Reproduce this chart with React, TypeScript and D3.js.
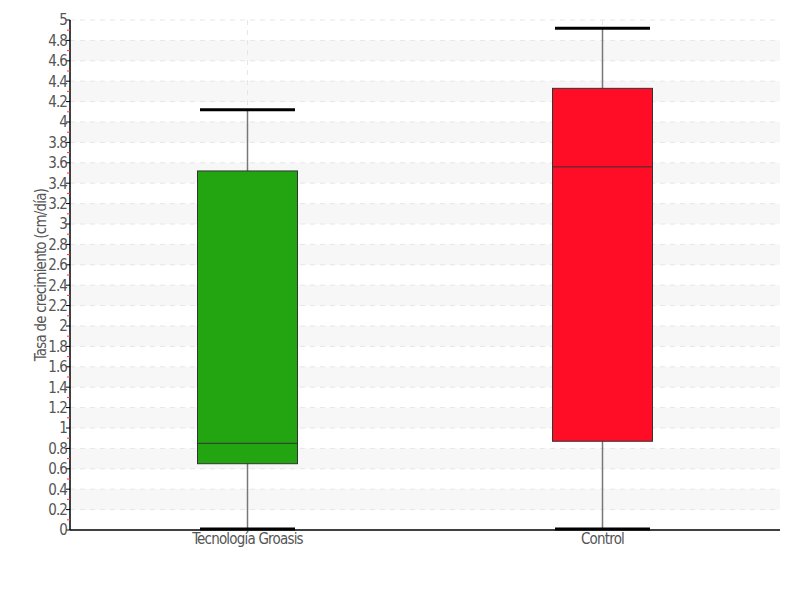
import React, { useEffect, useRef } from 'react';
import * as d3 from 'd3';

// box stats
const categories = ['Tecnología Groasis', 'Control'];
const whiskerLow = [0.01, 0.01];
const q1Values = [0.65, 0.87];
const medianValues = [0.85, 3.56];
const q3Values = [3.52, 4.33];
const whiskerHigh = [4.12, 4.92];
const boxColors = ['#22a511', '#ff0d26'];
const yTicks = d3.range(0, 5.0001, 0.2).map(v => +v.toFixed(1));
const yLabel = 'Tasa de crecimiento (cm/día)';

const FONT = '"DejaVu Sans Condensed", "DejaVu Sans", sans-serif';

const App: React.FC = () => {
  const ref = useRef<SVGSVGElement>(null);

  useEffect(() => {
    const svg = d3.select(ref.current);
    svg.selectAll('*').remove();

    const left = 70, right = 780, top = 20, bottom = 530;
    const y = d3.scaleLinear().domain([0, 5]).range([bottom, top]);
    const x = d3.scalePoint<string>().domain(categories).range([left, right]).padding(0.5);

    // alternating bands
    const bands = yTicks.filter((t, i) => i % 2 === 1 && t < 5);
    svg.append('g').selectAll('rect').data(bands).enter().append('rect')
      .attr('x', left).attr('width', right - left)
      .attr('y', d => y(d + 0.2)).attr('height', d => y(d) - y(d + 0.2))
      .attr('fill', '#f7f7f7');

    // horizontal grid
    svg.append('g').selectAll('line').data(yTicks.filter(t => t > 0)).enter().append('line')
      .attr('x1', left).attr('x2', right)
      .attr('y1', d => y(d)).attr('y2', d => y(d))
      .attr('stroke', '#e6e6e6').attr('stroke-dasharray', '5,5');

    // vertical grid at category centers
    svg.append('g').selectAll('line').data(categories).enter().append('line')
      .attr('x1', d => x(d)!).attr('x2', d => x(d)!)
      .attr('y1', top).attr('y2', bottom)
      .attr('stroke', '#e6e6e6').attr('stroke-dasharray', '5,5');

    const idx = d3.range(categories.length);
    const g = svg.append('g');
    const boxW = 100, capW = 95;

    // whisker stems
    g.selectAll('line.stem').data(idx).enter().append('line')
      .attr('class', 'stem')
      .attr('x1', i => x(categories[i])!).attr('x2', i => x(categories[i])!)
      .attr('y1', i => y(whiskerLow[i])).attr('y2', i => y(whiskerHigh[i]))
      .attr('stroke', '#777').attr('stroke-width', 1.5);

    // caps
    [whiskerLow, whiskerHigh].forEach(arr => {
      g.append('g').selectAll('line').data(idx).enter().append('line')
        .attr('x1', i => x(categories[i])! - capW / 2).attr('x2', i => x(categories[i])! + capW / 2)
        .attr('y1', i => y(arr[i])).attr('y2', i => y(arr[i]))
        .attr('stroke', '#000').attr('stroke-width', 3);
    });

    // boxes
    g.selectAll('rect.box').data(idx).enter().append('rect')
      .attr('class', 'box')
      .attr('x', i => x(categories[i])! - boxW / 2).attr('width', boxW)
      .attr('y', i => y(q3Values[i])).attr('height', i => y(q1Values[i]) - y(q3Values[i]))
      .attr('fill', i => boxColors[i])
      .attr('stroke', '#333').attr('stroke-width', 1);

    // medians
    g.selectAll('line.med').data(idx).enter().append('line')
      .attr('class', 'med')
      .attr('x1', i => x(categories[i])! - boxW / 2).attr('x2', i => x(categories[i])! + boxW / 2)
      .attr('y1', i => y(medianValues[i])).attr('y2', i => y(medianValues[i]))
      .attr('stroke', '#333').attr('stroke-width', 1);

    // axes
    svg.append('line').attr('x1', left).attr('x2', right).attr('y1', bottom).attr('y2', bottom)
      .attr('stroke', '#000').attr('stroke-width', 1.5);
    svg.append('line').attr('x1', left).attr('x2', left).attr('y1', top).attr('y2', bottom)
      .attr('stroke', '#000').attr('stroke-width', 1.5);

    // major ticks + labels
    const yt = svg.append('g');
    yt.selectAll('line').data(yTicks).enter().append('line')
      .attr('x1', left - 4).attr('x2', left).attr('y1', d => y(d)).attr('y2', d => y(d))
      .attr('stroke', '#000');
    yt.selectAll('text').data(yTicks).enter().append('text')
      .attr('x', left - 3).attr('y', d => y(d)).attr('dy', '0.36em')
      .attr('text-anchor', 'end')
      .attr('font-family', FONT).attr('font-size', 15).attr('letter-spacing', -0.9)
      .attr('fill', '#555')
      .text(d => d3.format('~g')(d));

    // minor red ticks
    const minors = yTicks.filter(t => t < 5).map(t => t + 0.1);
    yt.selectAll('line.minor').data(minors).enter().append('line')
      .attr('class', 'minor')
      .attr('x1', left - 3).attr('x2', left).attr('y1', d => y(d)).attr('y2', d => y(d))
      .attr('stroke', '#ff3333');

    // x labels
    svg.append('g').selectAll('text').data(categories).enter().append('text')
      .attr('x', d => x(d)!).attr('y', bottom + 14)
      .attr('text-anchor', 'middle')
      .attr('font-family', FONT).attr('font-size', 15).attr('letter-spacing', -0.8)
      .attr('fill', '#555')
      .text(d => d);

    // y label
    svg.append('text')
      .attr('transform', `translate(46, ${(top + bottom) / 2}) rotate(-90)`)
      .attr('text-anchor', 'middle')
      .attr('font-family', FONT).attr('font-size', 15).attr('letter-spacing', -0.8)
      .attr('fill', '#555')
      .text(yLabel);
  }, []);

  return <svg ref={ref} width={800} height={600} style={{ position: 'absolute', left: 0, top: 0, background: '#fff' }} />;
};

export default App;
